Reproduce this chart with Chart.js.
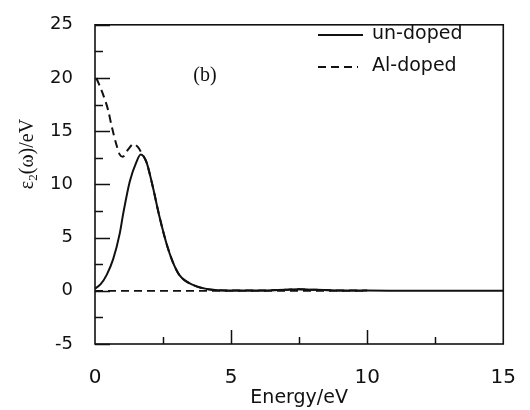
<!DOCTYPE html>
<html>
<head>
<meta charset="utf-8">
<script src="https://cdn.jsdelivr.net/npm/chart.js@4/dist/chart.umd.min.js"></script>
<style>
  body { margin: 0; background: #fff; }
  #wrap { width: 530px; height: 410px; }
</style>
</head>
<body>
<div id="wrap"><canvas id="eps_chart" width="530" height="410"></canvas></div>
<script>
// values (energy in eV, epsilon2 in eV)
let energyUndoped = [0, 0.2, 0.43, 0.67, 0.91, 1.04, 1.28, 1.52, 1.68, 1.89, 2.13, 2.37, 2.62, 2.86, 3.11, 3.6, 4.3, 5, 6, 7, 7.5, 8, 9, 10, 12, 15]
let eps2Undoped   = [0.2, 0.6, 1.5, 3.0, 5.4, 7.3, 10.3, 12.1, 12.8, 12.1, 9.7, 6.95, 4.5, 2.7, 1.45, 0.55, 0.1, 0.03, 0.02, 0.1, 0.15, 0.1, 0.03, 0.02, 0, 0]

let energyAlDoped = [0.05, 0.29, 0.48, 0.61, 0.79, 0.91, 1.02, 1.22, 1.42, 1.58, 1.72, 1.89, 2.13, 2.37, 2.62, 2.86, 3.11, 3.6, 4.3, 5, 6, 7, 7.5, 8, 9, 10]
let eps2AlDoped   = [20, 18.5, 17.0, 15.5, 13.7, 12.8, 12.6, 13.3, 13.8, 13.5, 12.9, 12.1, 9.7, 6.95, 4.5, 2.7, 1.45, 0.55, 0.1, 0.03, 0.02, 0.1, 0.15, 0.1, 0.03, 0.02]

let energyBase = [0, 10]
let eps2Base   = [0, 0]

let xTicks = [0, 5, 10, 15]
let yTicks = [-5, 0, 5, 10, 15, 20, 25]

function toPoints(xs, ys) {
    return xs.map((x, i) => ({x: x, y: ys[i]}))
}

// frame, inward ticks, legend, y title with subscript and panel tag
let extras = {
    id: 'extras',
    afterDatasetsDraw(chart) {
        let ctx = chart.ctx
        let a = chart.chartArea
        let xs = chart.scales.x
        let ys = chart.scales.y
        ctx.save()
        ctx.strokeStyle = '#111'
        ctx.lineWidth = 1.6
        ctx.strokeRect(a.left, a.top, a.right - a.left, a.bottom - a.top)

        ctx.lineWidth = 1.5
        ctx.beginPath()
        for (let v = -5; v <= 25; v += 2.5) {
            let py = Math.round(ys.getPixelForValue(v)) + 0.5
            let len = (v % 5 === 0) ? 15 : 8
            ctx.moveTo(a.left, py)
            ctx.lineTo(a.left + len, py)
        }
        for (let v = 2.5; v < 15; v += 2.5) {
            let px = Math.round(xs.getPixelForValue(v)) + 0.5
            let len = (v % 5 === 0) ? 14 : 7
            ctx.moveTo(px, a.bottom)
            ctx.lineTo(px, a.bottom - len)
        }
        ctx.stroke()

        // legend
        ctx.font = '19px "DejaVu Sans"'
        ctx.textBaseline = 'middle'
        ctx.fillStyle = '#111'
        let rows = chart.data.datasets.filter(d => d.inLegend)
        rows.forEach((d, i) => {
            let y = 34 + i * 32
            ctx.setLineDash(d.borderDash || [])
            ctx.lineWidth = 1.8
            ctx.beginPath()
            ctx.moveTo(318, y + 1)
            ctx.lineTo(i === 0 ? 363 : 358, y + 1)
            ctx.stroke()
            ctx.setLineDash([])
            ctx.fillText(d.label, 372, y)
        })

        // y title
        ctx.save()
        ctx.translate(27, 154)
        ctx.rotate(-Math.PI / 2)
        ctx.textAlign = 'left'
        ctx.textBaseline = 'alphabetic'
        let big = '20px "Liberation Serif"'
        let small = '13px "Liberation Serif"'
        ctx.font = big
        let w1 = ctx.measureText('ε').width
        let w3 = ctx.measureText('(ω)/eV').width
        ctx.font = small
        let w2 = ctx.measureText('2').width
        let x0 = -(w1 + w2 + w3) / 2
        ctx.font = big
        ctx.fillText('ε', x0, 6)
        ctx.font = small
        ctx.fillText('2', x0 + w1, 10)
        ctx.font = big
        ctx.fillText('(ω)/eV', x0 + w1 + w2, 6)
        ctx.restore()

        ctx.font = '20px "Liberation Serif"'
        ctx.textAlign = 'center'
        ctx.fillText('(b)', 205, 76)
        ctx.restore()
    }
}

let ctx = document.getElementById('eps_chart').getContext('2d')
let chart = new Chart(ctx, {
    type: 'line',
    data: {
        datasets: [{
            label: 'un-doped',
            inLegend: true,
            data: toPoints(energyUndoped, eps2Undoped),
            borderColor: '#111',
            borderWidth: 2,
            cubicInterpolationMode: 'monotone',
            pointRadius: 0
        }, {
            label: 'Al-doped',
            inLegend: true,
            data: toPoints(energyAlDoped, eps2AlDoped),
            borderColor: '#111',
            borderWidth: 2,
            borderDash: [8, 5],
            cubicInterpolationMode: 'monotone',
            pointRadius: 0
        }, {
            label: 'zero',
            inLegend: false,
            data: toPoints(energyBase, eps2Base),
            borderColor: '#111',
            borderWidth: 1.7,
            borderDash: [8, 5],
            pointRadius: 0
        }]
    },
    options: {
        responsive: false,
        animation: false,
        layout: {padding: {top: 16, right: 25, left: 0, bottom: 0}},
        plugins: {legend: {display: false}, tooltip: {enabled: false}},
        scales: {
            x: {
                type: 'linear',
                min: 0, max: 15,
                afterFit: s => { s.height = 66 },
                afterBuildTicks: s => { s.ticks = xTicks.map(v => ({value: v})) },
                grid: {display: false},
                border: {display: false},
                ticks: {color: '#111', padding: 14, font: {family: 'DejaVu Sans', size: 20}},
                title: {display: true, text: 'Energy/eV', color: '#111', padding: {top: 0, bottom: 1},
                        font: {family: 'DejaVu Sans', size: 19}}
            },
            y: {
                min: -5, max: 25,
                afterFit: s => { s.width = 95 },
                afterBuildTicks: s => { s.ticks = yTicks.map(v => ({value: v})) },
                grid: {display: false},
                border: {display: false},
                ticks: {color: '#111', padding: 14, font: {family: 'DejaVu Sans', size: 18}}
            }
        }
    },
    plugins: [extras]
})
</script>
</body>
</html>
